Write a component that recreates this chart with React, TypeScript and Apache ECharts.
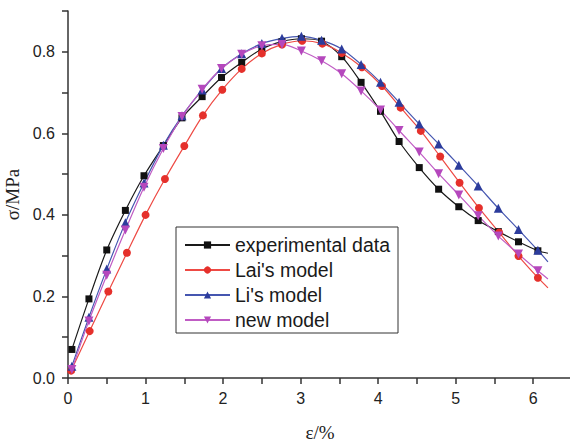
import React, { useEffect, useRef } from "react";
import * as echarts from "echarts";

const strainExp = [0.05, 0.27, 0.5, 0.74, 0.98, 1.23, 1.47, 1.73, 1.98, 2.24, 2.5, 2.76, 3.01, 3.27, 3.53, 3.78, 4.03, 4.27, 4.53, 4.78, 5.04, 5.29, 5.55, 5.81, 6.06];
const strainLai = [0.04, 0.28, 0.52, 0.76, 1.0, 1.25, 1.5, 1.74, 1.99, 2.24, 2.5, 2.76, 3.02, 3.28, 3.53, 3.79, 4.05, 4.29, 4.55, 4.8, 5.05, 5.3, 5.56, 5.81, 6.06];
const stressExp = [0.07, 0.194, 0.314, 0.411, 0.496, 0.57, 0.638, 0.69, 0.737, 0.774, 0.807, 0.825, 0.832, 0.826, 0.788, 0.725, 0.654, 0.58, 0.516, 0.463, 0.42, 0.386, 0.359, 0.334, 0.312];
const stressLai = [0.018, 0.115, 0.212, 0.307, 0.4, 0.488, 0.569, 0.644, 0.707, 0.758, 0.796, 0.818, 0.827, 0.82, 0.797, 0.762, 0.716, 0.663, 0.606, 0.543, 0.479, 0.417, 0.357, 0.299, 0.246];
const stressLi = [0.029, 0.149, 0.267, 0.381, 0.478, 0.571, 0.643, 0.706, 0.759, 0.795, 0.82, 0.833, 0.838, 0.828, 0.807, 0.769, 0.725, 0.676, 0.623, 0.574, 0.522, 0.471, 0.416, 0.364, 0.313];
const stressNew = [0.021, 0.14, 0.252, 0.363, 0.468, 0.563, 0.641, 0.708, 0.759, 0.794, 0.815, 0.818, 0.802, 0.778, 0.746, 0.704, 0.657, 0.607, 0.554, 0.501, 0.449, 0.398, 0.348, 0.304, 0.263];
// where each fitted line ends (beyond the last marker)
const lineEndStrain = 6.19;
const lineEndExp = 0.306;
const lineEndLai = 0.221;
const lineEndLi = 0.285;
const lineEndNew = 0.243;

const seriesNames = ["experimental data", "Lai's model", "Li's model", "new model"];
const xTickLabels = ["0", "1", "2", "3", "4", "5", "6"];

function build(xs: number[], ys: number[], endY: number) {
  const d: any[] = xs.map((x, i) => [x, ys[i]]);
  d.push({ value: [lineEndStrain, endY], symbol: "none" });
  return d;
}

export default function App() {
  const ref = useRef<HTMLDivElement>(null);
  useEffect(() => {
    if (!ref.current) return;
    const chart = echarts.init(ref.current, undefined, { renderer: "svg" });
    const sans = "'Liberation Sans', Arial, sans-serif";
    const serif = "'Liberation Serif', 'Times New Roman', serif";
    const axisCommon = {
      axisLine: { lineStyle: { color: "#333", width: 1.5 } },
      axisTick: { show: true, inside: false, length: 6, lineStyle: { color: "#333", width: 1.5 } },
      minorTick: { show: true, splitNumber: 2, length: 6, lineStyle: { color: "#333", width: 1.5 } },
      splitLine: { show: false },
      minorSplitLine: { show: false },
    };
    const mk = (name: string, data: any[], color: string, lineColor: string, symbol: string, size: number, rotate = 0) => ({
      name,
      type: "line",
      data,
      smooth: 0.3,
      symbol,
      symbolSize: size,
      symbolRotate: rotate,
      showSymbol: true,
      lineStyle: { color: lineColor, width: 1.2 },
      itemStyle: { color, borderWidth: 0 },
      emphasis: { disabled: true },
    });
    chart.setOption({
      animation: false,
      grid: { left: 68, top: 11, right: -2, bottom: 66, containLabel: false, outerBoundsMode: "none" },
      legend: {
        orient: "vertical",
        left: 176,
        top: 227,
        padding: [8, 8, 3, 8],
        itemGap: 5,
        itemWidth: 45,
        itemHeight: 9,
        borderColor: "#333",
        borderWidth: 1,
        borderRadius: 0,
        textStyle: { fontFamily: sans, fontSize: 19.5, color: "#1a1a1a" },
        data: seriesNames,
      },
      xAxis: {
        type: "value",
        min: 0,
        max: 6.5,
        interval: 1,
        name: "ε/%",
        nameLocation: "middle",
        nameGap: 45,
        nameTextStyle: { fontFamily: serif, fontSize: 19, color: "#222" },
        axisLabel: {
          fontFamily: sans,
          fontSize: 16,
          color: "#222",
          margin: 12,
          showMaxLabel: false,
          formatter: (v: number) => (Number.isInteger(v) ? xTickLabels[v] : ""),
        },
        ...axisCommon,
      },
      yAxis: {
        type: "value",
        min: 0,
        max: 0.9,
        interval: 0.2,
        name: "σ/MPa",
        nameLocation: "middle",
        nameGap: 41,
        nameRotate: 90,
        nameTextStyle: { fontFamily: serif, fontSize: 19, color: "#222" },
        axisLabel: {
          fontFamily: sans,
          fontSize: 16,
          color: "#222",
          margin: 13,
          showMaxLabel: false,
          formatter: (v: number) => v.toFixed(1),
        },
        ...axisCommon,
      },
      series: [
        mk(seriesNames[0], build(strainExp, stressExp, lineEndExp), "#111", "#1a1a1a", "rect", 7),
        mk(seriesNames[1], build(strainLai, stressLai, lineEndLai), "#e5302b", "#ee4a44", "circle", 8),
        mk(seriesNames[2], build(strainExp, stressLi, lineEndLi), "#2c3c9c", "#4556b0", "triangle", 9),
        mk(seriesNames[3], build(strainExp, stressNew, lineEndNew), "#b548bd", "#c05cc4", "triangle", 9, 180),
      ],
    });
    return () => chart.dispose();
  }, []);
  return <div ref={ref} style={{ position: "absolute", left: 0, top: 0, width: 570, height: 444 }} />;
}
